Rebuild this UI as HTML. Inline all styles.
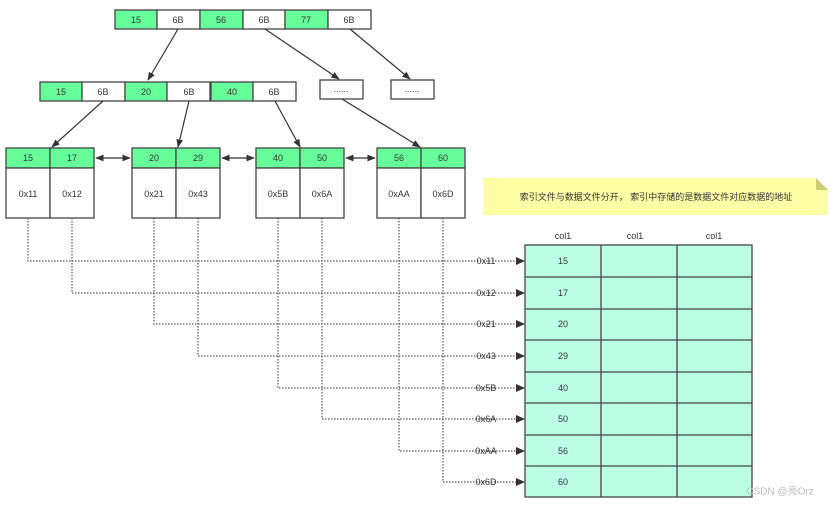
<!DOCTYPE html>
<html><head><meta charset="utf-8"><style>
html,body{margin:0;padding:0;background:#fff;width:831px;height:507px;overflow:hidden}
svg text{font-family:"Liberation Sans","Noto Sans CJK SC",sans-serif;font-size:9px;fill:#333;text-anchor:middle;dominant-baseline:central}
</style></head><body>
<svg width="831" height="507" viewBox="0 0 831 507" xmlns="http://www.w3.org/2000/svg">
<defs>
<marker id="a" viewBox="0 0 10 10" refX="9" refY="5" markerWidth="7" markerHeight="7" orient="auto-start-reverse"><path d="M0,1 L10,5 L0,9 z" fill="#333"/></marker>
</defs>
<g stroke="#444" stroke-width="1.3">
<!-- top row -->
<rect x="115" y="10" width="42" height="19" fill="#66ff99"/><rect x="157" y="10" width="43" height="19" fill="#fff"/>
<rect x="200" y="10" width="43" height="19" fill="#66ff99"/><rect x="243" y="10" width="42" height="19" fill="#fff"/>
<rect x="285" y="10" width="43" height="19" fill="#66ff99"/><rect x="328" y="10" width="43" height="19" fill="#fff"/>
<!-- mid row -->
<rect x="40" y="82" width="42" height="19" fill="#66ff99"/><rect x="82" y="82" width="43" height="19" fill="#fff"/>
<rect x="125" y="82" width="42" height="19" fill="#66ff99"/><rect x="167" y="82" width="43" height="19" fill="#fff"/>
<rect x="211" y="82" width="42" height="19" fill="#66ff99"/><rect x="253" y="82" width="43" height="19" fill="#fff"/>
<rect x="320" y="80" width="43" height="19" fill="#fff"/><rect x="391" y="80" width="43" height="19" fill="#fff"/>
<!-- leaves -->
<rect x="6" y="148" width="44" height="20" fill="#66ff99"/><rect x="50" y="148" width="44" height="20" fill="#66ff99"/>
<rect x="6" y="168" width="44" height="50" fill="#fff"/><rect x="50" y="168" width="44" height="50" fill="#fff"/>
<rect x="132" y="148" width="44" height="20" fill="#66ff99"/><rect x="176" y="148" width="44" height="20" fill="#66ff99"/>
<rect x="132" y="168" width="44" height="50" fill="#fff"/><rect x="176" y="168" width="44" height="50" fill="#fff"/>
<rect x="256" y="148" width="44" height="20" fill="#66ff99"/><rect x="300" y="148" width="44" height="20" fill="#66ff99"/>
<rect x="256" y="168" width="44" height="50" fill="#fff"/><rect x="300" y="168" width="44" height="50" fill="#fff"/>
<rect x="377" y="148" width="44" height="20" fill="#66ff99"/><rect x="421" y="148" width="44" height="20" fill="#66ff99"/>
<rect x="377" y="168" width="44" height="50" fill="#fff"/><rect x="421" y="168" width="44" height="50" fill="#fff"/>
</g>
<g stroke="#333" stroke-width="1.2" fill="none" marker-end="url(#a)">
<line x1="178" y1="29" x2="148" y2="80"/>
<line x1="265" y1="29" x2="339" y2="79"/>
<line x1="350" y1="29" x2="410" y2="79"/>
<line x1="103" y1="101" x2="52" y2="147"/>
<line x1="189" y1="101" x2="178" y2="147"/>
<line x1="275" y1="101" x2="300" y2="147"/>
<line x1="342" y1="99" x2="420" y2="147"/>
<line x1="96" y1="158" x2="130" y2="158" marker-start="url(#a)"/>
<line x1="222" y1="158" x2="254" y2="158" marker-start="url(#a)"/>
<line x1="346" y1="158" x2="375" y2="158" marker-start="url(#a)"/>
</g>
<!-- dotted lines -->
<g stroke="#555" stroke-width="1.2" stroke-dasharray="1.5,1.5" fill="none">
<polyline points="28,218 28,261 519,261"/>
<polyline points="72,218 72,293 519,293"/>
<polyline points="154,218 154,324 519,324"/>
<polyline points="198,218 198,356 519,356"/>
<polyline points="278,218 278,388 519,388"/>
<polyline points="322,218 322,419 519,419"/>
<polyline points="399,218 399,451 519,451"/>
<polyline points="443,218 443,482 519,482"/>
</g>
<g fill="#333">
<path d="M516,257 L525,261 L516,265z"/><path d="M516,289 L525,293 L516,297z"/>
<path d="M516,320 L525,324 L516,328z"/><path d="M516,352 L525,356 L516,360z"/>
<path d="M516,384 L525,388 L516,392z"/><path d="M516,415 L525,419 L516,423z"/>
<path d="M516,447 L525,451 L516,455z"/><path d="M516,478 L525,482 L516,486z"/>
</g>
<!-- note -->
<path d="M483,178 L816,178 L828,190 L828,215 L483,215z" fill="#ffffa6"/>
<path d="M816,178 L828,190 L816,190z" fill="#cccc77"/>
<text x="656" y="197">索引文件与数据文件分开， 索引中存储的是数据文件对应数据的地址</text>
<!-- table -->
<g stroke="#444" stroke-width="1.3" fill="#bbffe6">
<rect x="525" y="245" width="227" height="252"/>
</g>
<g stroke="#444" stroke-width="1.3">
<line x1="601" y1="245" x2="601" y2="497"/><line x1="677" y1="245" x2="677" y2="497"/>
<line x1="525" y1="277" x2="752" y2="277"/><line x1="525" y1="309" x2="752" y2="309"/>
<line x1="525" y1="340" x2="752" y2="340"/><line x1="525" y1="372" x2="752" y2="372"/>
<line x1="525" y1="403" x2="752" y2="403"/><line x1="525" y1="435" x2="752" y2="435"/>
<line x1="525" y1="466" x2="752" y2="466"/>
</g>
<text x="563" y="236">col1</text><text x="635" y="236">col1</text><text x="714" y="236">col1</text>
<text x="563" y="261">15</text><text x="563" y="293">17</text><text x="563" y="324">20</text><text x="563" y="356">29</text>
<text x="563" y="388">40</text><text x="563" y="419">50</text><text x="563" y="451">56</text><text x="563" y="482">60</text>
<text x="486" y="261">0x11</text><text x="486" y="293">0x12</text><text x="486" y="324">0x21</text><text x="486" y="356">0x43</text>
<text x="486" y="388">0x5B</text><text x="486" y="419">0x6A</text><text x="486" y="451">0xAA</text><text x="486" y="482">0x6D</text>
<!-- node texts -->
<text x="136" y="20">15</text><text x="178" y="20">6B</text><text x="221" y="20">56</text><text x="264" y="20">6B</text><text x="306" y="20">77</text><text x="349" y="20">6B</text>
<text x="61" y="92">15</text><text x="103" y="92">6B</text><text x="146" y="92">20</text><text x="189" y="92">6B</text><text x="232" y="92">40</text><text x="274" y="92">6B</text>
<text x="341" y="89">......</text><text x="412" y="89">......</text>
<text x="28" y="158">15</text><text x="72" y="158">17</text><text x="154" y="158">20</text><text x="198" y="158">29</text>
<text x="278" y="158">40</text><text x="322" y="158">50</text><text x="399" y="158">56</text><text x="443" y="158">60</text>
<text x="28" y="194">0x11</text><text x="72" y="194">0x12</text><text x="154" y="194">0x21</text><text x="198" y="194">0x43</text>
<text x="278" y="194">0x5B</text><text x="322" y="194">0x6A</text><text x="399" y="194">0xAA</text><text x="443" y="194">0x6D</text>
<text x="780" y="492" style="fill:#bbb;font-size:10px">CSDN @亮Orz</text>
</svg>
</body></html>
